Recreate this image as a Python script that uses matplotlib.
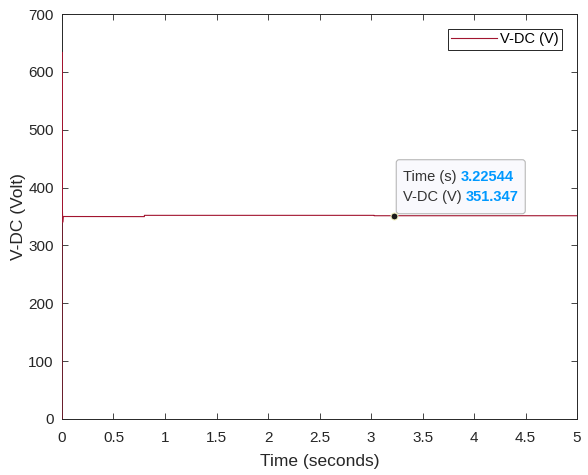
import numpy as np
import matplotlib
matplotlib.use("Agg")
import matplotlib.pyplot as plt
import matplotlib.transforms as mtransforms
from matplotlib.patches import FancyBboxPatch

# data
time_s = [0.0, 0.0004, 0.0015, 0.004, 0.007, 0.012, 0.8, 0.8, 3.03, 3.03, 5.0]
vdc_v = [0.0, 634.0, 350.0, 365.0, 340.0, 350.0, 349.8, 352.0, 352.0, 351.347, 351.347]

tip_t = 3.22544
tip_v = 351.347

xticks = np.arange(0, 5.01, 0.5)
xtick_labels = ["0", "0.5", "1", "1.5", "2", "2.5", "3", "3.5", "4", "4.5", "5"]
yticks = np.arange(0, 701, 100)

plt.rcParams['font.family'] = ['Liberation Sans', 'DejaVu Sans']
axcol = '#262626'

fig = plt.figure(figsize=(5.88, 4.75), dpi=100)
ax = fig.add_axes([0.1054, 0.1179, 0.876, 0.8526])

ax.plot(time_s, vdc_v, color='#A2142F', lw=0.8, label='V-DC (V)', zorder=3)

ax.set_xlim(0, 5)
ax.set_ylim(0, 700)
ax.set_xticks(xticks)
ax.set_xticklabels(xtick_labels)
ax.set_yticks(yticks)
ax.tick_params(direction='in', length=4, width=0.6, top=True, right=True,
               labelsize=11, colors=axcol)
ax.tick_params(axis='x', pad=9)
ax.tick_params(axis='y', pad=6)
for s in ax.spines.values():
    s.set_color(axcol)
    s.set_linewidth(0.7)

ax.set_xlabel('Time (seconds)', fontsize=12.5, color=axcol, labelpad=6)
ax.set_ylabel('V-DC (Volt)', fontsize=12.5, color=axcol, labelpad=1.5)

leg = ax.legend(loc='upper right', fontsize=10.5, fancybox=False,
                framealpha=1, edgecolor=axcol, handlelength=3.1,
                handletextpad=0.25, borderaxespad=1.0, borderpad=0.25)
leg.get_frame().set_linewidth(0.7)

# datatip box, laid out in pixels relative to the data point
trans = mtransforms.ScaledTranslation(tip_t, tip_v, ax.transData)
box = FancyBboxPatch((2, 2), 129, 54, boxstyle='round,pad=0,rounding_size=3',
                     transform=trans, facecolor='#f9f9fd', edgecolor='#b8b8b8',
                     lw=0.8, zorder=5)
ax.add_patch(box)
ax.plot([tip_t], [tip_v], 'o', ms=5, color='#1a1a1a', mec='#f0f0c0', mew=0.8, zorder=6)

rows = [("Time (s) ", "3.22544", 39), ("V-DC (V) ", "351.347", 19)]
for name, val, dy in rows:
    t1 = ax.annotate(name, (tip_t, tip_v), xytext=(9, dy), textcoords='offset pixels',
                     fontsize=10.5, color='#333333', va='center', ha='left', zorder=7)
    ax.annotate(val, xy=(1, 0.5), xycoords=t1, xytext=(0, 0), textcoords='offset pixels',
                fontsize=10.5, color='#0099ff', fontweight='bold', va='center', ha='left', zorder=7)

fig.savefig('out.png', dpi=100)
